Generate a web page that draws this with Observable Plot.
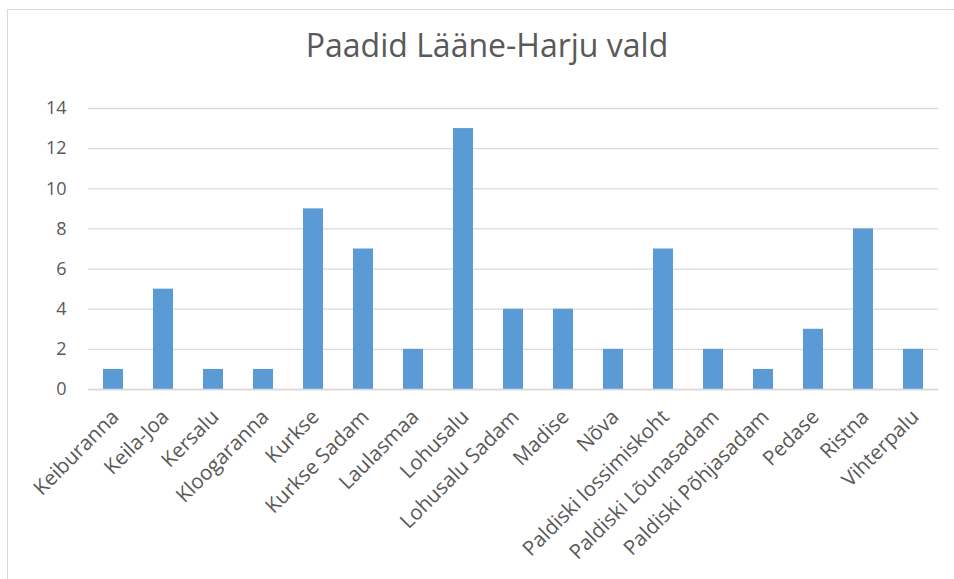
<!DOCTYPE html>
<html>
<head>
<meta charset="utf-8">
<script src="https://cdn.jsdelivr.net/npm/d3@7"></script>
<script src="https://cdn.jsdelivr.net/npm/@observablehq/plot@0.6"></script>
<style>
  body { margin: 0; background: #fff; }
  #wrap { position: relative; width: 954px; height: 579px; overflow: hidden; }
  #frame { position: absolute; left: 7px; top: 9px; width: 960px; height: 600px; border: 1px solid #d9d9d9; box-sizing: border-box; }
  #title { position: absolute; left: 0; width: 974px; top: 25px; text-align: center; font-family: "Open Sans", sans-serif; font-size: 32px; line-height: 40px; color: #595959; }
  #chart { position: absolute; left: 0; top: 0; }
</style>
</head>
<body>
<div id="wrap">
  <div id="frame"></div>
  <div id="title">Paadid Lääne-Harju vald</div>
  <div id="chart"></div>
</div>
<script>
const categories = ["Keiburanna","Keila-Joa","Kersalu","Kloogaranna","Kurkse","Kurkse Sadam","Laulasmaa","Lohusalu","Lohusalu Sadam","Madise","Nõva","Paldiski lossimiskoht","Paldiski Lõunasadam","Paldiski Põhjasadam","Pedase","Ristna","Vihterpalu"];
const values = [1,5,1,1,9,7,2,13,4,4,2,7,2,1,3,8,2];
const yTicks = [0,2,4,6,8,10,12,14];

const data = categories.map((c, i) => ({name: c, value: values[i]}));

const chart = Plot.plot({
  width: 954,
  height: 579,
  marginLeft: 88,
  marginRight: 16,
  marginTop: 108,
  marginBottom: 190,
  style: {fontFamily: "Open Sans, sans-serif", fontSize: "19px", color: "#595959", background: "transparent", overflow: "visible"},
  x: {domain: categories, paddingInner: 0.6, paddingOuter: 0.3, label: null},
  y: {domain: [0, 14], label: null},
  marks: [
    Plot.gridY(yTicks, {stroke: "#d9d9d9", strokeOpacity: 1, strokeWidth: 1.3}),
    Plot.barY(data, {x: "name", y: "value", fill: "#5b9bd5"}),
    Plot.ruleY([0], {stroke: "#d9d9d9", strokeWidth: 1.5}),
    Plot.axisY(yTicks, {tickSize: 0, tickPadding: 22, fontSize: 18, fill: "#595959"}),
    Plot.axisX({tickSize: 0, tickRotate: -45, tickPadding: 24, dx: 2, fontSize: 20.5, fill: "#595959"})
  ]
});
document.getElementById("chart").appendChild(chart);
</script>
</body>
</html>
